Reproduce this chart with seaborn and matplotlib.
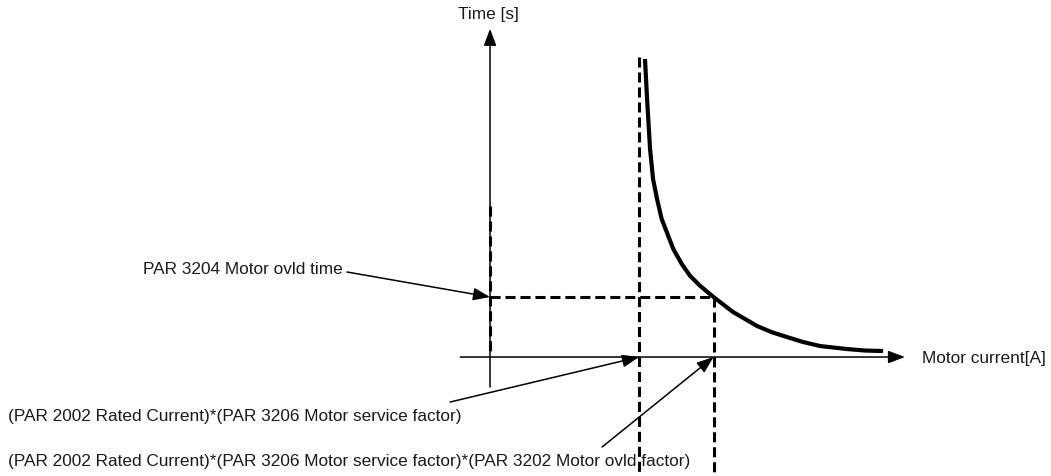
import numpy as np
import pandas as pd
import matplotlib
matplotlib.use("Agg")
import matplotlib.pyplot as plt
import seaborn as sns

# Overload characteristic, current in multiples of rated current, time in multiples of ovld time
current = [1.040, 1.054, 1.074, 1.094, 1.121, 1.152, 1.186, 1.230, 1.287, 1.342, 1.409,
           1.5, 1.631, 1.792, 1.893, 1.993, 2.101, 2.215, 2.396, 2.517, 2.638]
trip_time = [4.967, 4.30, 3.467, 2.967, 2.633, 2.30, 2.083, 1.80, 1.55, 1.355, 1.188,
             1.0, 0.75, 0.517, 0.412, 0.333, 0.25, 0.183, 0.133, 0.108, 0.10]

service_factor_current = 1.0
ovld_factor_current = 1.5
ovld_time = 1.0

x_label = "Motor current[A]"
y_label = "Time [s]"
label_time = "PAR 3204 Motor ovld time"
label_sf = "(PAR 2002 Rated Current)*(PAR 3206 Motor service factor)"
label_of = "(PAR 2002 Rated Current)*(PAR 3206 Motor service factor)*(PAR 3202 Motor ovld factor)"

sns.set_theme(style="white")
plt.rcParams["font.family"] = ["Liberation Sans", "DejaVu Sans"]

FS = 12.4
TXT = "#1a1a1a"

fig = plt.figure(figsize=(10.51, 4.77), dpi=100)
ax = fig.add_axes([0, 0, 1, 1])

df = pd.DataFrame({"current": current, "time": trip_time})

# axes with arrows
arrow_kw = dict(arrowstyle="-|>,head_length=0.85,head_width=0.32", lw=1.1, color="black",
                shrinkA=0, shrinkB=0)
ax.annotate("", xy=(2.785, 0), xytext=(-0.2, 0), arrowprops=arrow_kw)
ax.annotate("", xy=(0, 5.47), xytext=(0, -0.5), arrowprops=arrow_kw)
ax.text(2.90, 0, x_label, fontsize=FS, va="center", ha="left", color=TXT)
ax.text(-0.013, 5.73, y_label, fontsize=FS, va="center", ha="center", color=TXT)

# dashed guide lines
dash = dict(color="black", lw=2.2, linestyle=(0, (3.3, 1.6)))
ax.plot([service_factor_current, service_factor_current], [5.0, -2.0], **dash)
ax.plot([ovld_factor_current, ovld_factor_current], [ovld_time, -2.0], **dash)
ax.plot([0, ovld_factor_current], [ovld_time, ovld_time], **dash)
ax.plot([0, 0], [2.52, 0.05], **dash)

# characteristic curve
sns.lineplot(data=df, x="current", y="time", ax=ax, color="black", lw=3.0, sort=False,
             legend=False, solid_joinstyle="round", solid_capstyle="butt")

# annotations
ax.text(-0.987, 1.467, label_time, fontsize=FS, ha="right", va="center", color=TXT)
ax.annotate("", xy=(0, ovld_time), xytext=(-0.96, 1.417), arrowprops=arrow_kw)

ax.text(-3.235, -0.967, label_sf, fontsize=FS, ha="left", va="center", color=TXT)
ax.annotate("", xy=(service_factor_current, 0), xytext=(-0.268, -0.75), arrowprops=arrow_kw)

ax.text(-3.235, -1.733, label_of, fontsize=FS, ha="left", va="center", color=TXT)
ax.annotate("", xy=(ovld_factor_current, 0), xytext=(0.752, -1.5), arrowprops=arrow_kw)

ax.set_xlim(-3.289, 3.765)
ax.set_ylim(-1.983, 5.967)
ax.axis("off")

fig.savefig("out.png", dpi=100, facecolor="white")
